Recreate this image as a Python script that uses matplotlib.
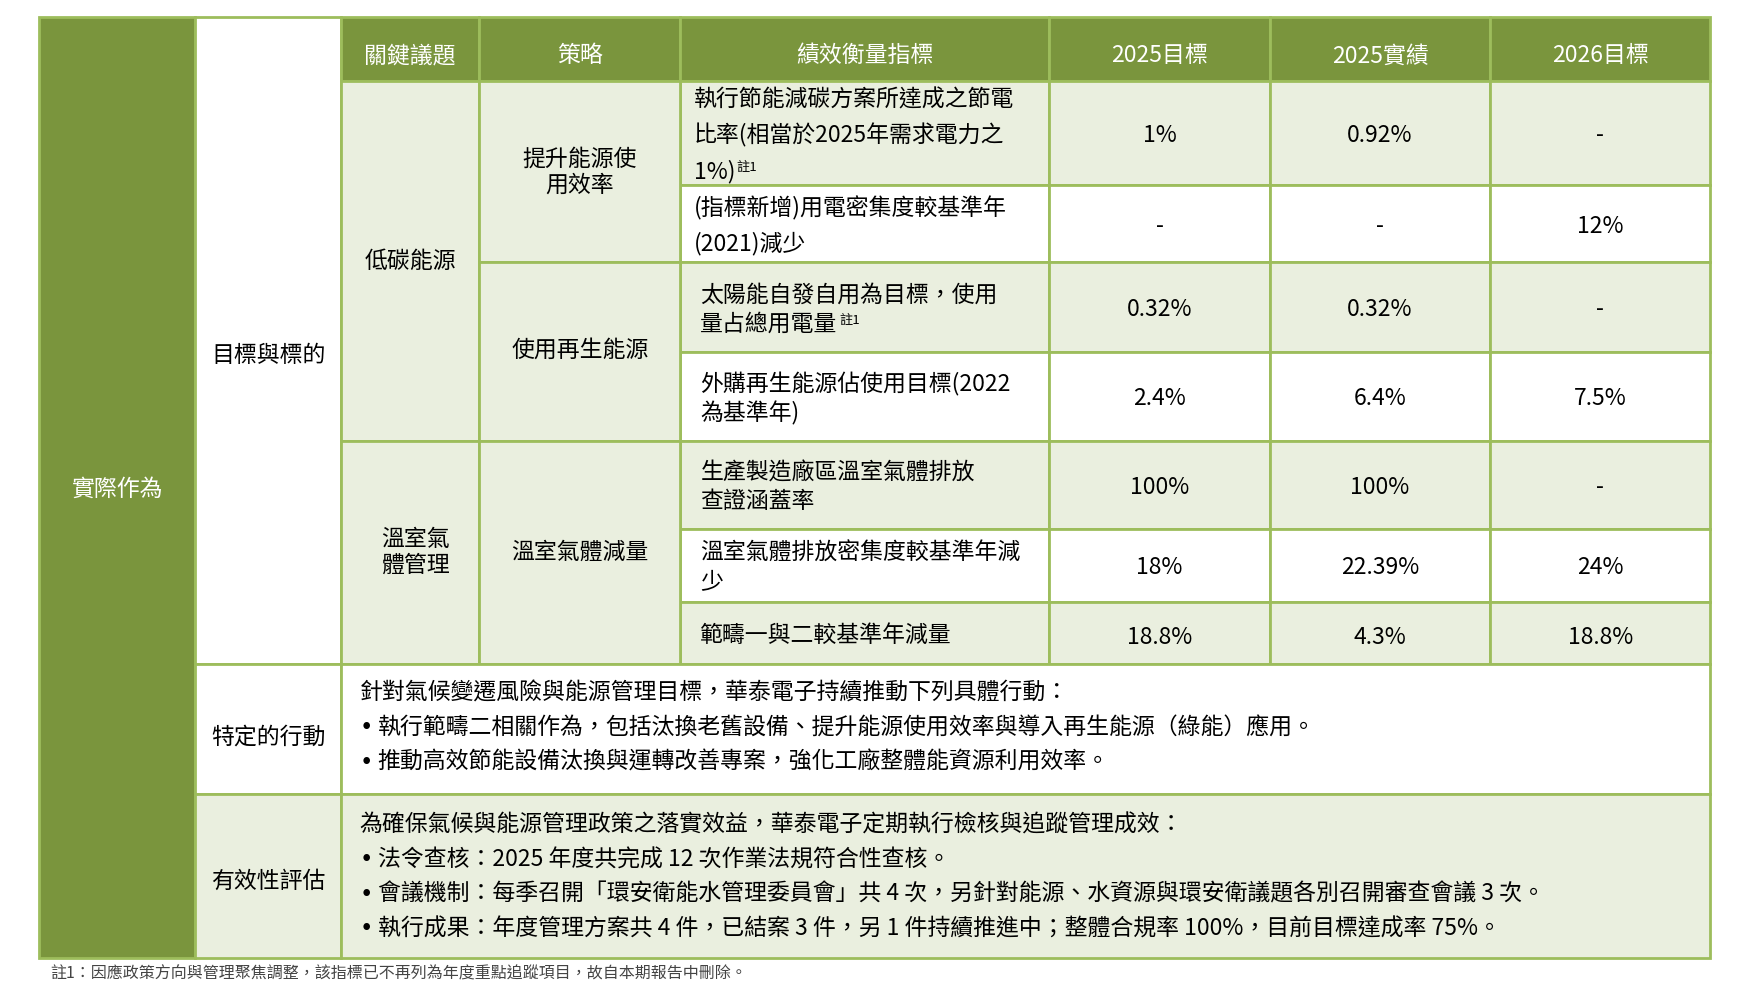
import matplotlib
matplotlib.use("Agg")
import matplotlib.pyplot as plt
from matplotlib.patches import Rectangle

plt.rcParams['font.family'] = ['Noto Sans CJK TC', 'DejaVu Sans']

headers = ["關鍵議題", "策略", "績效衡量指標", "2025目標", "2025實績", "2026目標"]
issues = ["低碳能源", "溫室氣\n體管理"]
strategies = ["提升能源使\n用效率", "使用再生能源", "溫室氣體減量"]
metrics = [
    ["執行節能減碳方案所達成之節電", "比率(相當於2025年需求電力之", "1%)"],
    ["(指標新增)用電密集度較基準年", "(2021)減少"],
    ["太陽能自發自用為目標，使用", "量占總用電量"],
    ["外購再生能源佔使用目標(2022", "為基準年)"],
    ["生產製造廠區溫室氣體排放", "查證涵蓋率"],
    ["溫室氣體排放密集度較基準年減", "少"],
    ["範疇一與二較基準年減量"],
]
metric_note = [True, False, True, False, False, False, False]
target_2025 = ["1%", "-", "0.32%", "2.4%", "100%", "18%", "18.8%"]
actual_2025 = ["0.92%", "-", "0.32%", "6.4%", "100%", "22.39%", "4.3%"]
target_2026 = ["-", "12%", "-", "7.5%", "-", "24%", "18.8%"]
action_title = "針對氣候變遷風險與能源管理目標，華泰電子持續推動下列具體行動："
action_items = ["執行範疇二相關作為，包括汰換老舊設備、提升能源使用效率與導入再生能源（綠能）應用。",
                "推動高效節能設備汰換與運轉改善專案，強化工廠整體能資源利用效率。"]
eval_title = "為確保氣候與能源管理政策之落實效益，華泰電子定期執行檢核與追蹤管理成效："
eval_items = ["法令查核：2025 年度共完成 12 次作業法規符合性查核。",
              "會議機制：每季召開「環安衛能水管理委員會」共 4 次，另針對能源、水資源與環安衛議題各別召開審查會議 3 次。",
              "執行成果：年度管理方案共 4 件，已結案 3 件，另 1 件持續推進中；整體合規率 100%，目前目標達成率 75%。"]
footnote = "註1：因應政策方向與管理聚焦調整，該指標已不再列為年度重點追蹤項目，故自本期報告中刪除。"

DARK = "#7a953d"; LIGHT = "#eaefdf"; LINE = "#9dbd5c"; WHITE = "white"

fig = plt.figure(figsize=(17.56, 10.07), dpi=100)
ax = fig.add_axes([0, 0, 1, 1])
ax.set_xlim(0, 1572); ax.set_ylim(902, 0); ax.axis('off')

def cell(x0, y0, x1, y1, fc, lw=2):
    ax.add_patch(Rectangle((x0, y0), x1 - x0, y1 - y0, facecolor=fc, edgecolor=LINE, lw=lw))

FS = 16.5
cols = [305, 429, 609, 939, 1137, 1334, 1531]
rows = [73, 166, 235, 315, 395, 474, 539, 595]

cell(35, 15, 175, 858, DARK)
ax.text(105, 438, "實際作為", color='white', fontsize=FS, ha='center', va='center', fontweight='medium')
cell(175, 15, 305, 595, WHITE)
ax.text(240, 318, "目標與標的", fontsize=FS, ha='center', va='center')
cell(175, 595, 305, 711, WHITE)
ax.text(240, 660, "特定的行動", fontsize=FS, ha='center', va='center')
cell(175, 711, 305, 858, LIGHT)
ax.text(240, 789, "有效性評估", fontsize=FS, ha='center', va='center')

for i, h in enumerate(headers):
    cell(cols[i], 15, cols[i + 1], 73, DARK)
    ax.text((cols[i] + cols[i + 1]) / 2, 50, h, color='white', fontsize=FS, ha='center', va='center')

for r in range(7):
    fc = LIGHT if r % 2 == 0 else WHITE
    y0, y1 = rows[r], rows[r + 1]
    for c in range(2, 6):
        cell(cols[c], y0, cols[c + 1], y1, fc)
    n = len(metrics[r])
    ym = (y0 + y1) / 2 + 2
    gap = 32 if r in (0, 1) else 26
    for k, line in enumerate(metrics[r]):
        yy = ym + (k - (n - 1) / 2) * gap
        t = ax.text(621 if r < 2 else 627, yy, line, fontsize=FS, ha='left', va='center')
        if metric_note[r] and k == n - 1:
            ax.annotate("註1", xy=(1, 1), xycoords=t, xytext=(1, -1), textcoords='offset points',
                        fontsize=9.5, ha='left', va='top')
    for c, vals in zip([3, 4, 5], [target_2025, actual_2025, target_2026]):
        ax.text((cols[c] + cols[c + 1]) / 2, (y0 + y1) / 2 + (4 if r == 6 else 2), vals[r],
                fontsize=FS, ha='center', va='center')

cell(305, 73, 429, 395, LIGHT); ax.text(367, 234, issues[0], fontsize=FS, ha='center', va='center')
cell(305, 395, 429, 595, LIGHT); ax.text(372, 495, issues[1], fontsize=FS, ha='center', va='center', linespacing=1.15)
cell(429, 73, 609, 235, LIGHT); ax.text(519, 154, strategies[0], fontsize=FS, ha='center', va='center', linespacing=1.15)
cell(429, 235, 609, 395, LIGHT); ax.text(519, 314, strategies[1], fontsize=FS, ha='center', va='center')
cell(429, 395, 609, 595, LIGHT); ax.text(519, 495, strategies[2], fontsize=FS, ha='center', va='center')

cell(305, 595, 1531, 711, WHITE)
ax.text(322, 621, action_title, fontsize=FS, ha='left', va='center')
for k, s in enumerate(action_items):
    ax.text(322, 652 + 31 * k, "•", fontsize=FS, ha='left', va='center', family='DejaVu Sans')
    ax.text(338, 652 + 31 * k, s, fontsize=FS, ha='left', va='center')
cell(305, 711, 1531, 858, LIGHT)
ax.text(322, 739, eval_title, fontsize=FS, ha='left', va='center')
for k, s in enumerate(eval_items):
    ax.text(322, 770 + 31 * k, "•", fontsize=FS, ha='left', va='center', family='DejaVu Sans')
    ax.text(338, 770 + 31 * k, s, fontsize=FS, ha='left', va='center')

ax.text(45, 872, footnote, fontsize=11.5, color='#444444', ha='left', va='center')

fig.savefig("out.png", dpi=100)
